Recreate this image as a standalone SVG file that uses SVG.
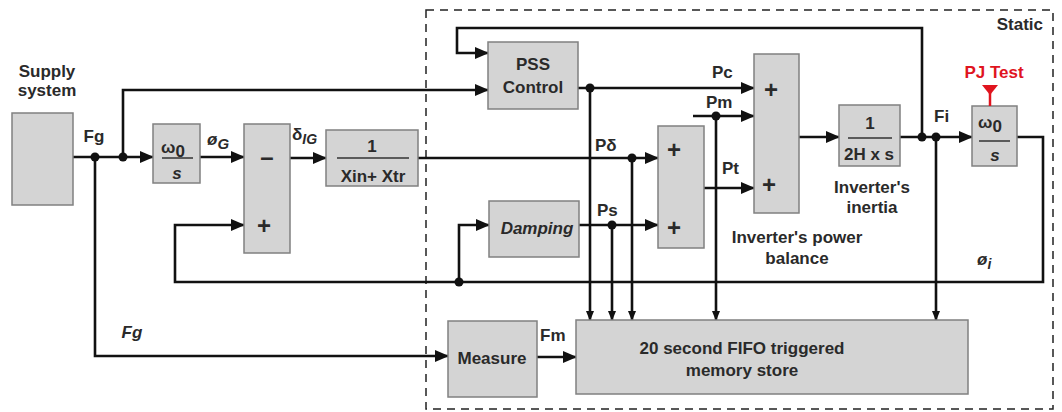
<svg xmlns="http://www.w3.org/2000/svg" width="1062" height="412" viewBox="0 0 1062 412">
<defs>
<style>
.box{fill:#d4d4d4;stroke:#808080;stroke-width:1.5}
.ln{fill:none;stroke:#111;stroke-width:2.6}
.frac{stroke:#333;stroke-width:1.5}
text{font-family:"Liberation Sans",Arial,sans-serif;font-weight:bold;fill:#2a2a2a;font-size:17px}
.c{text-anchor:middle}
.it{font-style:italic}
.pm{font-size:24px;text-anchor:middle}
.dot{fill:#111}
</style>
<marker id="a" markerWidth="14" markerHeight="12" refX="13" refY="6" orient="auto" markerUnits="userSpaceOnUse"><path d="M0,0 L14,6 L0,12 z" fill="#111"/></marker>
<marker id="s" markerWidth="10" markerHeight="8" refX="9" refY="4" orient="auto" markerUnits="userSpaceOnUse"><path d="M0,0 L10,4 L0,8 z" fill="#111"/></marker>
</defs>
<rect x="0" y="0" width="1062" height="412" fill="#fff"/>

<g id="static-frame">
<rect x="426" y="10" width="627" height="399" fill="none" stroke="#222" stroke-width="1.5" stroke-dasharray="8,6"/>
<text x="1043" y="30" text-anchor="end">Static</text>
</g>

<g id="connectors">
<path class="ln" d="M73,157 H153" marker-end="url(#a)"/>
<path class="ln" d="M123,157 V90 H488" marker-end="url(#a)"/>
<path class="ln" d="M95,157 V356 H448" marker-end="url(#a)"/>
<path class="ln" d="M200,157 H244" marker-end="url(#a)"/>
<path class="ln" d="M290,158 H326" marker-end="url(#a)"/>
<path class="ln" d="M418,158 H658" marker-end="url(#a)"/>
<path class="ln" d="M578,88 H754" marker-end="url(#a)"/>
<path class="ln" d="M693,116 H754" marker-end="url(#a)"/>
<path class="ln" d="M704,188 H754" marker-end="url(#a)"/>
<path class="ln" d="M579,225 H658" marker-end="url(#a)"/>
<path class="ln" d="M799,137 H839" marker-end="url(#a)"/>
<path class="ln" d="M900,137 H972" marker-end="url(#a)"/>
<path class="ln" d="M922,137 V28 H457 V53 H488" marker-end="url(#a)"/>
<path class="ln" d="M1017,137 H1043 V282 H175 V225 H244" marker-end="url(#a)"/>
<path class="ln" d="M459,282 V225 H489" marker-end="url(#a)"/>
<path class="ln" d="M590,88 V320" marker-end="url(#s)"/>
<path class="ln" d="M612,225 V320" marker-end="url(#s)"/>
<path class="ln" d="M632,158 V320" marker-end="url(#s)"/>
<path class="ln" d="M716,116 V320" marker-end="url(#s)"/>
<path class="ln" d="M936,137 V320" marker-end="url(#s)"/>
<path class="ln" d="M537,357 H576" marker-end="url(#a)"/>
<circle class="dot" cx="95" cy="157" r="4.5"/>
<circle class="dot" cx="123" cy="157" r="4.5"/>
<circle class="dot" cx="590" cy="88" r="4.5"/>
<circle class="dot" cx="632" cy="158" r="4.5"/>
<circle class="dot" cx="612" cy="225" r="4.5"/>
<circle class="dot" cx="716" cy="116" r="4.5"/>
<circle class="dot" cx="922" cy="137" r="4.5"/>
<circle class="dot" cx="936" cy="137" r="4.5"/>
<circle class="dot" cx="459" cy="282" r="4.5"/>
</g>

<g id="labels">
<text x="94" y="142" class="c">Fg</text>
<text x="132" y="338" class="c it">Fg</text>
<text x="207" y="145" class="it" font-size="19">ø<tspan dy="4" font-size="15">G</tspan></text>
<text x="292" y="140" font-size="20">δ<tspan dy="4" font-size="14" class="it">IG</tspan></text>
<text x="712" y="78">Pc</text>
<text x="706" y="108">Pm</text>
<text x="595" y="151">Pδ</text>
<text x="597" y="216">Ps</text>
<text x="722" y="174">Pt</text>
<text x="934" y="122">Fi</text>
<text x="977" y="265" class="it" font-size="19">ø<tspan dy="4" font-size="14">i</tspan></text>
<text x="540" y="341">Fm</text>
<text x="797" y="243" class="c" font-size="18">Inverter's power</text>
<text x="797" y="264" class="c" font-size="18">balance</text>
<text x="872" y="193" class="c" font-size="18">Inverter's</text>
<text x="872" y="213" class="c" font-size="18">inertia</text>
</g>

<g id="supply">
<rect class="box" x="12" y="113" width="61" height="92"/>
<text x="47" y="77" class="c" font-size="18">Supply</text>
<text x="47" y="96" class="c" font-size="18">system</text>
</g>

<g id="integrator-g">
<rect class="box" x="153" y="124" width="47" height="59"/>
<text x="161" y="153" font-size="20">ω<tspan dy="4" font-size="17">0</tspan></text>
<line class="frac" x1="162" y1="158" x2="193" y2="158"/>
<text x="177" y="179" class="c it" font-size="19">s</text>
</g>

<g id="sum1">
<rect class="box" x="244" y="124" width="46" height="129"/>
<text x="267" y="165" class="pm">–</text>
<text x="264" y="234" class="pm">+</text>
</g>

<g id="reactance">
<rect class="box" x="326" y="130" width="92" height="56"/>
<text x="372" y="152" class="c">1</text>
<line class="frac" x1="337" y1="158" x2="409" y2="158"/>
<text x="373" y="182" class="c" font-size="17">Xin+ Xtr</text>
</g>

<g id="pss">
<rect class="box" x="488" y="42" width="90" height="67"/>
<text x="533" y="70" class="c" font-size="18">PSS</text>
<text x="533" y="93" class="c" font-size="18">Control</text>
</g>

<g id="damping">
<rect class="box" x="489" y="201" width="90" height="56"/>
<text x="537" y="234" class="c it" font-size="18">Damping</text>
</g>

<g id="sum2">
<rect class="box" x="658" y="126" width="46" height="122"/>
<text x="674" y="158" class="pm">+</text>
<text x="674" y="236" class="pm">+</text>
</g>

<g id="sum3">
<rect class="box" x="754" y="54" width="45" height="159"/>
<text x="771" y="98" class="pm">+</text>
<text x="769" y="193" class="pm">+</text>
</g>

<g id="inertia">
<rect class="box" x="839" y="105" width="61" height="61"/>
<text x="870" y="129" class="c">1</text>
<line class="frac" x1="848" y1="138" x2="892" y2="138"/>
<text x="869" y="160" class="c" font-size="17">2H x s</text>
</g>

<g id="integrator-i">
<rect class="box" x="972" y="106" width="45" height="60"/>
<text x="978" y="128" font-size="20">ω<tspan dy="4" font-size="17">0</tspan></text>
<line class="frac" x1="979" y1="141" x2="1010" y2="141"/>
<text x="995" y="161" class="c it" font-size="19">s</text>
</g>

<g id="pj-test">
<text x="994" y="78" class="c" font-size="18" style="fill:#e0141e">PJ Test</text>
<path d="M982,85 L998,85 L990,95 z" fill="#e0141e"/>
<line x1="990" y1="93" x2="990" y2="106" stroke="#e0141e" stroke-width="2.5"/>
</g>

<g id="measure">
<rect class="box" x="448" y="321" width="89" height="76"/>
<text x="492" y="364" class="c" font-size="18">Measure</text>
</g>

<g id="memory">
<rect class="box" x="576" y="320" width="392" height="74"/>
<text x="742" y="354" class="c" font-size="19">20 second FIFO triggered</text>
<text x="742" y="376" class="c" font-size="19">memory store</text>
</g>
</svg>
